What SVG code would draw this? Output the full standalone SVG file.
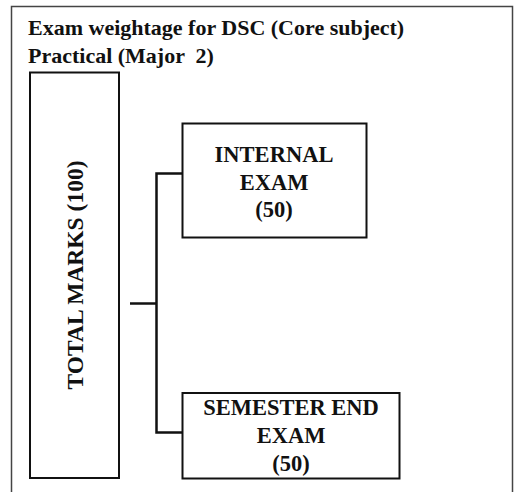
<svg xmlns="http://www.w3.org/2000/svg" width="515" height="492" viewBox="0 0 515 492">
<style>
text{font-family:"Liberation Serif","Times New Roman",serif;font-weight:bold;fill:#111;}
.t{font-size:22px;white-space:pre;}
.n{font-size:22.5px;text-anchor:middle;}
.box{fill:#fff;stroke:#111;stroke-width:2;}
.c{fill:none;stroke:#111;stroke-width:2.5;}
</style>
<rect x="0" y="0" width="515" height="492" fill="#fff"/>
<rect x="11.5" y="6.5" width="501" height="500" fill="none" stroke="#444" stroke-width="1.5"/>
<g id="title">
<text class="t" x="28" y="35">Exam weightage for DSC (Core subject)</text>
<text class="t" x="28" y="63">Practical (Major  2)</text>
</g>
<g id="connectors">
<path class="c" d="M130 303.5H156.5"/>
<path class="c" d="M182 173.5H156.5V432.5H182"/>
</g>
<g id="total">
<rect class="box" x="30" y="72.5" width="89" height="405.5"/>
<text class="n" style="font-size:23.5px" transform="translate(83,275) rotate(-90)">TOTAL MARKS (100)</text>
</g>
<g id="internal">
<rect class="box" x="182.5" y="123.5" width="184" height="114"/>
<text class="n" x="274" y="161.5">INTERNAL</text>
<text class="n" x="274" y="189.5">EXAM</text>
<text class="n" x="274" y="217">(50)</text>
</g>
<g id="semester">
<rect class="box" x="182.5" y="393" width="217" height="85.5"/>
<text class="n" x="291" y="415">SEMESTER END</text>
<text class="n" x="291" y="443">EXAM</text>
<text class="n" x="291" y="470.5">(50)</text>
</g>
</svg>
